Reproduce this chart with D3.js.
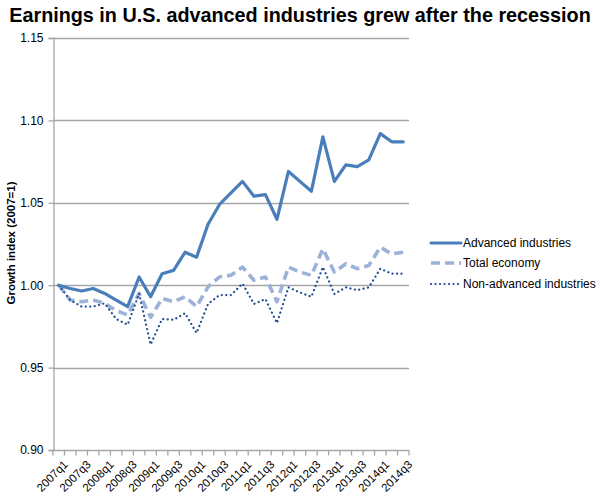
<!DOCTYPE html>
<html>
<head>
<meta charset="utf-8">
<script src="https://cdn.jsdelivr.net/npm/d3@7"></script>
<style>
  body { margin: 0; background: #fff; }
  svg { display: block; font-family: "Liberation Sans", Arial, sans-serif; }
</style>
</head>
<body>
<svg id="chart" width="600" height="500"></svg>
<script>
const quarters = ["2007q1","2007q2","2007q3","2007q4","2008q1","2008q2","2008q3","2008q4",
  "2009q1","2009q2","2009q3","2009q4","2010q1","2010q2","2010q3","2010q4",
  "2011q1","2011q2","2011q3","2011q4","2012q1","2012q2","2012q3","2012q4",
  "2013q1","2013q2","2013q3","2013q4","2014q1","2014q2","2014q3"];
const advanced = [1.000,0.998,0.9965,0.998,0.995,0.991,0.987,1.005,0.993,1.007,1.009,1.020,1.017,1.037,1.049,1.056,
  1.063,1.054,1.055,1.040,1.069,1.063,1.057,1.090,1.063,1.073,1.072,1.076,1.092,1.087,1.087];
const total = [1.000,0.991,0.990,0.991,0.989,0.9845,0.982,0.995,0.9805,0.992,0.990,0.993,0.987,0.999,1.005,1.006,
  1.011,1.003,1.005,0.990,1.011,1.008,1.006,1.022,1.008,1.013,1.010,1.012,1.023,1.019,1.020];
const nonAdvanced = [1.000,0.991,0.987,0.987,0.989,0.9795,0.976,0.995,0.964,0.9795,0.979,0.983,0.971,0.9886,0.994,0.994,
  1.001,0.9886,0.9916,0.977,0.9987,0.9956,0.993,1.011,0.9947,0.9987,0.997,0.9987,1.010,1.007,1.007];
const yTicks = [0.90,0.95,1.00,1.05,1.10,1.15];
const seriesNames = ["Advanced industries","Total economy","Non-advanced industries"];

const series = [
  {name: seriesNames[0], values: advanced, color: "#4a7ebb", width: 3.2, dash: null, cap: "round"},
  {name: seriesNames[1], values: total, color: "#9db2d8", width: 3.6, dash: "9,5", cap: "butt"},
  {name: seriesNames[2], values: nonAdvanced, color: "#1f4e94", width: 2.2, dash: "0.1,4.4", cap: "round"}
];

const svg = d3.select("#chart");
const plotLeft = 53, plotRight = 409, plotTop = 38, plotBottom = 450;

const x = d3.scaleBand().domain(quarters).range([plotLeft, plotRight]);
const y = d3.scaleLinear().domain([0.90, 1.15]).range([plotBottom, plotTop]);

// title
svg.append("text")
  .attr("x", 300).attr("y", 22)
  .attr("text-anchor", "middle")
  .attr("font-size", 19.8).attr("font-weight", "bold")
  .attr("fill", "#000")
  .text("Earnings in U.S. advanced industries grew after the recession");

// gridlines
svg.append("g").selectAll("line").data(yTicks.slice(1)).join("line")
  .attr("x1", plotLeft).attr("x2", plotRight)
  .attr("y1", d => Math.round(y(d)) + 0.5).attr("y2", d => Math.round(y(d)) + 0.5)
  .attr("stroke", "#a6a6a6").attr("stroke-width", 1.3);

// y axis
const yAxis = svg.append("g").attr("transform", `translate(${plotLeft + 0.5},0)`)
  .call(d3.axisLeft(y).tickValues(yTicks).tickFormat(d3.format(".2f")).tickSize(5).tickPadding(5));
yAxis.select(".domain").attr("stroke", "#a6a6a6").attr("stroke-width", 1.3);
yAxis.selectAll(".tick line").attr("stroke", "#a6a6a6").attr("stroke-width", 1.3);
yAxis.selectAll(".tick text").attr("font-size", 12).attr("fill", "#000")
  .attr("font-family", "Liberation Sans, Arial, sans-serif");

// x axis
const xAxisG = svg.append("g").attr("transform", `translate(0,${plotBottom + 0.5})`);
xAxisG.append("line").attr("x1", plotLeft).attr("x2", plotRight).attr("stroke", "#a6a6a6").attr("stroke-width", 1.3);
const boundaries = quarters.map(q => x(q)).concat([x(quarters[quarters.length - 1]) + x.bandwidth()]);
xAxisG.selectAll("line.tk").data(boundaries).join("line").attr("class", "tk")
  .attr("x1", d => d).attr("x2", d => d).attr("y1", 0).attr("y2", 5)
  .attr("stroke", "#a6a6a6").attr("stroke-width", 1.3);
xAxisG.selectAll("text").data(quarters.filter((q, i) => i % 2 === 0)).join("text")
  .attr("transform", q => `translate(${x(q) + x.bandwidth() / 2 + 4},${9}) rotate(-45)`)
  .attr("text-anchor", "end").attr("dy", "0.71em")
  .attr("font-size", 11.5).attr("fill", "#000")
  .text(q => q);

// y axis title
svg.append("text")
  .attr("transform", "translate(15,243) rotate(-90)")
  .attr("text-anchor", "middle")
  .attr("font-size", 11.5).attr("font-weight", "bold")
  .text("Growth index (2007=1)");

// lines
const line = d3.line()
  .x((d, i) => x(quarters[i]) + x.bandwidth() / 2)
  .y(d => y(d));

svg.append("g").selectAll("path").data([series[1], series[2], series[0]]).join("path")
  .attr("d", s => line(s.values))
  .attr("fill", "none")
  .attr("stroke", s => s.color)
  .attr("stroke-width", s => s.width)
  .attr("stroke-dasharray", s => s.dash)
  .attr("stroke-linecap", s => s.cap)
  .attr("stroke-linejoin", "round");

// legend
const legend = svg.append("g");
const legY = [243, 263, 284];
series.forEach((s, i) => {
  legend.append("line")
    .attr("x1", 431).attr("x2", 461)
    .attr("y1", legY[i]).attr("y2", legY[i])
    .attr("stroke", s.color).attr("stroke-width", s.width)
    .attr("stroke-dasharray", s.dash).attr("stroke-linecap", s.cap);
  legend.append("text")
    .attr("x", 463).attr("y", legY[i]).attr("dy", "0.35em")
    .attr("font-size", 12).attr("fill", "#000")
    .text(s.name);
});
</script>
</body>
</html>
